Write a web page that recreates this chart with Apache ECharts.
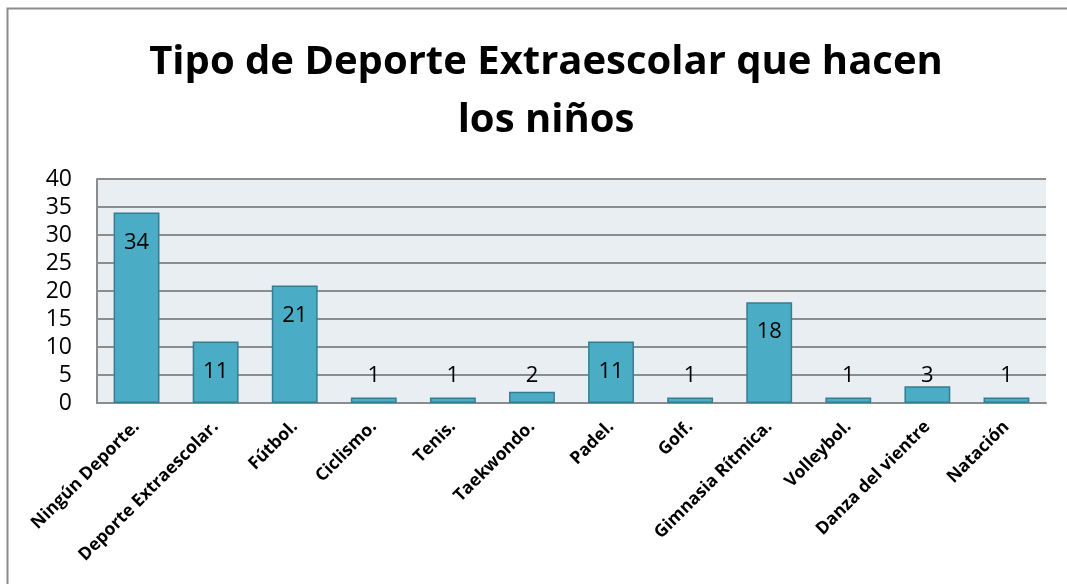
<!DOCTYPE html>
<html>
<head>
<meta charset="utf-8">
<script src="https://cdn.jsdelivr.net/npm/echarts@6/dist/echarts.min.js"></script>
<style>
html, body { margin: 0; padding: 0; background: #fff; }
#chart { width: 1067px; height: 584px; }
</style>
</head>
<body>
<div id="chart"></div>
<script>
var deportes = ['Ningún Deporte.', 'Deporte Extraescolar.', 'Fútbol.', 'Ciclismo.', 'Tenis.', 'Taekwondo.',
    'Padel.', 'Golf.', 'Gimnasia Rítmica.', 'Volleybol.', 'Danza del vientre', 'Natación'];
var ninos = [34, 11, 21, 1, 1, 2, 11, 1, 18, 1, 3, 1];
var ticksY = [0, 5, 10, 15, 20, 25, 30, 35, 40];

// labels for short bars sit above the bar, the rest inside near the top
function make_data(d) {
    return d.map(function(v) {
        if (v < 5) {
            return {value: v, label: {position: 'insideBottom', distance: 16}};
        }
        return {value: v};
    });
}

var font = 'Open Sans, Liberation Sans, sans-serif';

echarts.init(document.getElementById('chart')).setOption({
    backgroundColor: '#fff',
    animation: false,
    graphic: [{
        type: 'rect',
        shape: {x: 7.5, y: 8.5, width: 1070, height: 590},
        style: {fill: 'none', stroke: '#8c8c8c', lineWidth: 2}
    }],
    title: {
        text: 'Tipo de Deporte Extraescolar que hacen\nlos niños',
        left: 541,
        textAlign: 'center',
        top: 29,
        textStyle: {
            fontFamily: font,
            fontWeight: 'bold',
            fontSize: 40,
            lineHeight: 58,
            color: '#000'
        }
    },
    grid: {
        left: 97,
        right: 21,
        top: 179,
        bottom: 181,
        show: true,
        backgroundColor: '#e8eef2',
        borderColor: '#8c8c8c',
        borderWidth: 0
    },
    xAxis: [{
        type: 'category',
        data: deportes,
        axisLine: {lineStyle: {color: '#8c8c8c', width: 2}},
        axisTick: {show: false},
        axisLabel: {
            rotate: 45,
            interval: 0,
            margin: 21,
            fontFamily: font,
            fontWeight: 'bold',
            fontSize: 17.5,
            color: '#000'
        }
    }],
    yAxis: [{
        type: 'value',
        min: ticksY[0],
        max: ticksY[ticksY.length - 1],
        interval: 5,
        axisLine: {show: true, lineStyle: {color: '#8c8c8c', width: 2}},
        axisTick: {show: false},
        splitLine: {lineStyle: {color: '#8c8c8c', width: 2}},
        axisLabel: {
            margin: 25,
            fontFamily: font,
            fontSize: 23,
            color: '#000'
        }
    }],
    series: [{
        type: 'bar',
        barWidth: '58%',
        data: make_data(ninos),
        itemStyle: {
            color: '#4bacc6',
            borderColor: '#357d91',
            borderWidth: 1.5
        },
        label: {
            show: true,
            position: 'insideTop',
            distance: 19,
            fontFamily: font,
            fontSize: 22,
            color: '#000'
        }
    }]
})
</script>
</body>
</html>
